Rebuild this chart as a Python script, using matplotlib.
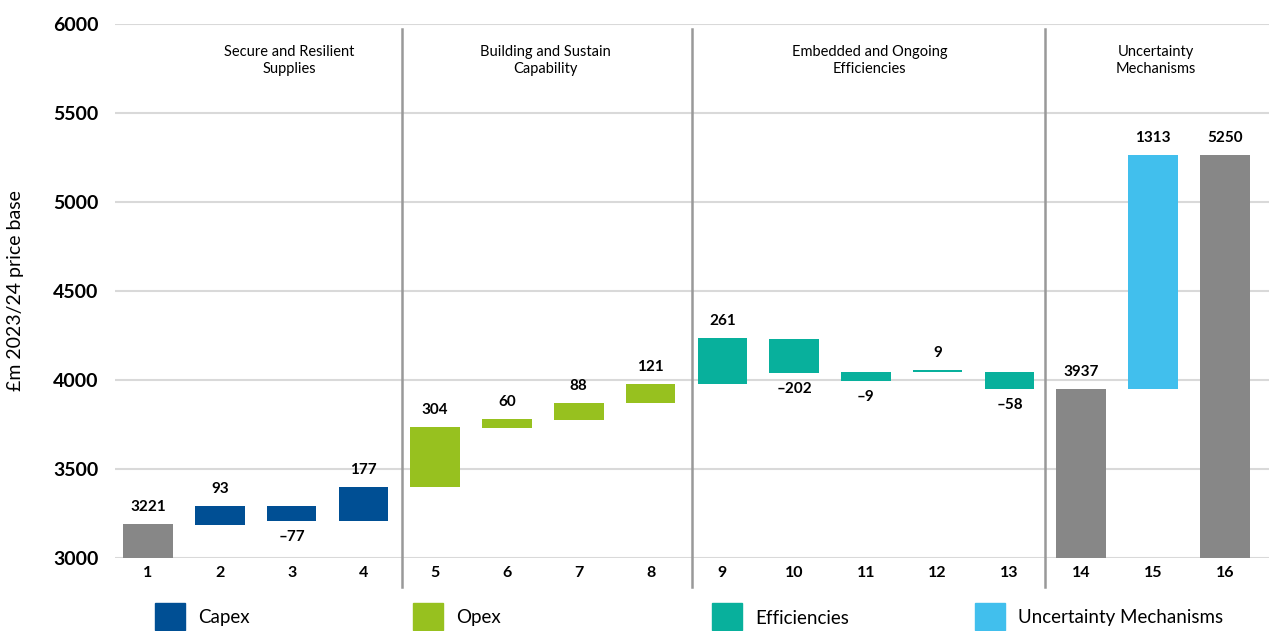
import matplotlib
matplotlib.use("Agg")
import matplotlib.pyplot as plt
from matplotlib.patches import Rectangle
import matplotlib.transforms as mtransforms

plt.rcParams['font.family'] = ['Lato', 'DejaVu Sans']

# data
categories = [str(i) for i in range(1, 17)]
bottoms = [3000, 3185, 3208, 3208, 3399, 3731, 3776, 3871, 3978, 4040, 3995, 4046, 3950, 3000, 3948, 3000]
tops = [3189, 3291, 3291, 3397, 3735, 3780, 3870, 3976, 4235, 4230, 4044, 4055, 4044, 3948, 5264, 5264]
labels = ['3221', '93', '–77', '177', '304', '60', '88', '121', '261', '–202', '–9', '9', '–58', '3937', '1313', '5250']
kinds = ['total', 'capex', 'capex', 'capex', 'opex', 'opex', 'opex', 'opex',
         'eff', 'eff', 'eff', 'eff', 'eff', 'total', 'unc', 'total']

sections = ['Secure and Resilient\nSupplies', 'Building and Sustain\nCapability',
            'Embedded and Ongoing\nEfficiencies', 'Uncertainty\nMechanisms']
section_x = [2.97, 6.53, 11.05, 15.04]
dividers = [4.54, 8.58, 13.5]

legend_names = ['Capex', 'Opex', 'Efficiencies', 'Uncertainty Mechanisms']
colors = {'total': '#878787', 'capex': '#004F94', 'opex': '#97C11F',
          'eff': '#08B09C', 'unc': '#41BFED'}

fig = plt.figure(figsize=(12.74, 6.31), dpi=100)
ax = fig.add_axes([0.0903, 0.1162, 0.906, 0.8458])

x = list(range(1, 17))
heights = [t - b for t, b in zip(tops, bottoms)]
ax.bar(x, heights, bottom=bottoms, width=0.69,
       color=[colors[k] for k in kinds], zorder=3)

for xi, b, t, lab in zip(x, bottoms, tops, labels):
    if lab.startswith('–'):
        ax.annotate(lab, (xi, b), xytext=(0, -7), textcoords='offset points',
                    ha='center', va='top', fontsize=11, fontweight='bold')
    else:
        ax.annotate(lab, (xi, t), xytext=(0, 7), textcoords='offset points',
                    ha='center', va='bottom', fontsize=11, fontweight='bold')

ax.set_ylim(3000, 6000)
ax.set_xlim(0.54, 16.62)
ax.set_yticks(range(3000, 6001, 500))
ax.set_xticks(x)
ax.set_xticklabels(categories)
for lab in ax.get_yticklabels() + ax.get_xticklabels():
    lab.set_fontweight('bold')
ax.tick_params(axis='y', length=0, pad=12, labelsize=14)
ax.tick_params(axis='x', length=0, pad=6, labelsize=11.5)
ax.grid(axis='y', color='#d9d9d9', linewidth=1.5, zorder=0)
for s in ax.spines.values():
    s.set_visible(False)
ax.set_ylabel('£m 2023/24 price base', fontsize=14)
ax.yaxis.set_label_coords(-0.079, 0.5)

trans = mtransforms.blended_transform_factory(ax.transData, ax.transAxes)
for d in dividers:
    ax.plot([d, d], [-0.055, 0.99], transform=trans, color='#999999',
            linewidth=1.8, clip_on=False, zorder=2)

for sx, name in zip(section_x, sections):
    ax.text(sx, 0.96, name, transform=trans, ha='center', va='top',
            fontsize=10.5, linespacing=1.25)

leg_x = [155, 413, 712, 975]
for lx, name, k in zip(leg_x, legend_names, ['capex', 'opex', 'eff', 'unc']):
    fig.add_artist(Rectangle((lx / 1274, 1 - 630 / 631), 30 / 1274, 27 / 631,
                             transform=fig.transFigure, color=colors[k]))
    fig.text((lx + 43) / 1274, 1 - 618 / 631, name, fontsize=13.5, va='center')

fig.savefig('out.png', dpi=100)
